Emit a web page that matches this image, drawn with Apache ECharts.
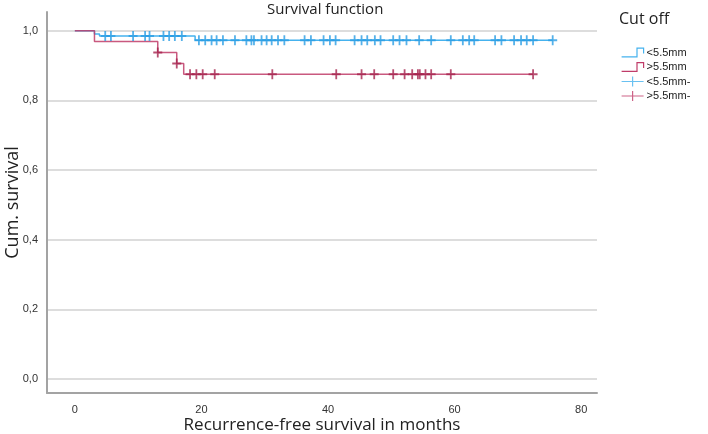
<!DOCTYPE html>
<html>
<head>
<meta charset="utf-8">
<script src="https://cdn.jsdelivr.net/npm/echarts@6/dist/echarts.min.js"></script>
<style>
  html, body { margin: 0; padding: 0; background: #fff; }
  #chart { width: 708px; height: 434px; }
</style>
</head>
<body>
<div id="chart"></div>
<script>
const xTicks = [0, 20, 40, 60, 80];
const yTicks = [0, 0.2, 0.4, 0.6, 0.8, 1.0];

const groupNames = ["<5.5mm", ">5.5mm"];
const censorNames = ["<5.5mm-", ">5.5mm-"];

// Kaplan-Meier steps: event times (months) and survival after each event
const lowTimes = [0, 3.1, 3.9, 19.0];
const lowSurv = [1, 0.991, 0.985, 0.973];
const lowEnd = 75.5;
const lowCensored = [4.8, 5.7, 9.2, 11.1, 11.8, 14.0, 14.9, 15.8, 16.9, 19.6, 20.6, 21.6, 22.4, 23.4,
  25.3, 27.1, 27.9, 28.3, 29.5, 30.3, 31.1, 32.1, 33.1, 36.3, 37.3, 39.3, 40.3, 41.2, 44.2, 45.3,
  46.2, 47.4, 48.3, 50.3, 51.3, 52.4, 54.4, 56.3, 59.4, 61.3, 62.3, 63.1, 66.4, 67.4, 69.4, 70.5,
  71.4, 72.4, 75.5];

const highTimes = [0, 3.1, 13.1, 16.1, 17.2];
const highSurv = [1, 0.969, 0.9375, 0.906, 0.875];
const highEnd = 72.4;
const highCensored = [13.1, 16.1, 18.2, 19.2, 20.2, 22.1, 31.2, 41.3, 45.3, 47.3, 50.3, 52.1, 53.3,
  54.2, 54.5, 55.4, 56.3, 59.4, 72.4];

const blue = "#45b2ee";
const blueMark = "#2a9de4";
const red = "#c03c69";
const redMark = "#a5234e";

function stepPoints(times, surv, end) {
  const pts = times.map((t, i) => [t, surv[i]]);
  pts.push([end, surv[surv.length - 1]]);
  return pts;
}

function survAt(times, surv, t) {
  let s = surv[0];
  times.forEach((tt, i) => { if (tt <= t) s = surv[i]; });
  return s;
}

const plusPath = "path://M4,0H6V10H4Z M0,4H10V6H0Z";
const plusLegend = "path://M0,4.4H22V5.6H0Z M10.4,0H11.6V10H10.4Z";
const stepLegend = "path://M0,9H14V1H20V6";

const chart = echarts.init(document.getElementById("chart"));

chart.setOption({
  backgroundColor: "#fff",
  animation: false,
  title: [
    {
      text: "Survival function",
      left: 262,
      top: -3,
      textStyle: { fontFamily: "Open Sans", fontSize: 15, fontWeight: "normal", color: "#222" }
    },
    {
      text: "Cut off",
      left: 614,
      top: 6,
      textStyle: { fontFamily: "Open Sans", fontSize: 16, fontWeight: "normal", color: "#222" }
    }
  ],
  legend: {
    orient: "vertical",
    left: 616,
    top: 42,
    itemWidth: 22,
    itemHeight: 10,
    itemGap: 3.5,
    textStyle: { fontFamily: "Liberation Sans", fontSize: 11, color: "#222", padding: [0, 0, 0, -2] },
    data: [
      { name: groupNames[0], icon: stepLegend, itemStyle: { color: "rgba(0,0,0,0)", borderColor: blue, borderWidth: 1.2 } },
      { name: groupNames[1], icon: stepLegend, itemStyle: { color: "rgba(0,0,0,0)", borderColor: red, borderWidth: 1.2 } },
      { name: censorNames[0], icon: plusLegend, itemStyle: { color: blue } },
      { name: censorNames[1], icon: plusLegend, itemStyle: { color: red } }
    ]
  },
  grid: { left: 47, right: 111, top: 12, bottom: 41, outerBoundsMode: "none", containLabel: false },
  xAxis: {
    type: "value",
    min: -4.4,
    max: 82.5,
    name: "Recurrence-free survival in months",
    nameLocation: "middle",
    nameGap: 24,
    nameMoveOverlap: false,
    nameTextStyle: { fontFamily: "Open Sans", fontSize: 17, color: "#222" },
    axisLine: { onZero: false, lineStyle: { color: "#a3a3a3", width: 2 } },
    axisTick: { show: false, customValues: xTicks },
    axisLabel: { customValues: xTicks, margin: 11, fontFamily: "Liberation Sans", fontSize: 11, color: "#333" },
    splitLine: { show: false }
  },
  yAxis: {
    type: "value",
    min: -0.04,
    max: 1.054,
    name: "Cum. survival",
    nameLocation: "middle",
    nameGap: 25,
    nameMoveOverlap: false,
    nameTextStyle: { fontFamily: "Open Sans", fontSize: 18, color: "#222" },
    axisLine: { show: true, onZero: false, lineStyle: { color: "#a3a3a3", width: 2 } },
    axisTick: { show: false, customValues: yTicks },
    axisLabel: {
      customValues: yTicks,
      margin: 9,
      fontFamily: "Liberation Sans",
      fontSize: 11,
      color: "#333",
      formatter: (v) => v.toFixed(1).replace(".", ",")
    },
    splitLine: { show: true, lineStyle: { color: "#d2d2d2", width: 1.5 } }
  },
  series: [
    {
      name: groupNames[0],
      type: "line",
      step: "end",
      showSymbol: false,
      data: stepPoints(lowTimes, lowSurv, lowEnd),
      lineStyle: { color: blue, width: 1.5 },
      itemStyle: { color: blue },
      z: 2
    },
    {
      name: groupNames[1],
      type: "line",
      step: "end",
      showSymbol: false,
      data: stepPoints(highTimes, highSurv, highEnd),
      lineStyle: { color: red, width: 1.5, opacity: 0.85 },
      itemStyle: { color: red },
      z: 3
    },
    {
      name: censorNames[0],
      type: "scatter",
      symbol: plusPath,
      symbolSize: [9, 10],
      data: lowCensored.map((t) => [t, survAt(lowTimes, lowSurv, t)]),
      itemStyle: { color: blueMark },
      z: 4
    },
    {
      name: censorNames[1],
      type: "scatter",
      symbol: plusPath,
      symbolSize: [9, 10],
      data: highCensored.map((t) => [t, survAt(highTimes, highSurv, t)]),
      itemStyle: { color: redMark },
      z: 5
    }
  ]
});
</script>
</body>
</html>
